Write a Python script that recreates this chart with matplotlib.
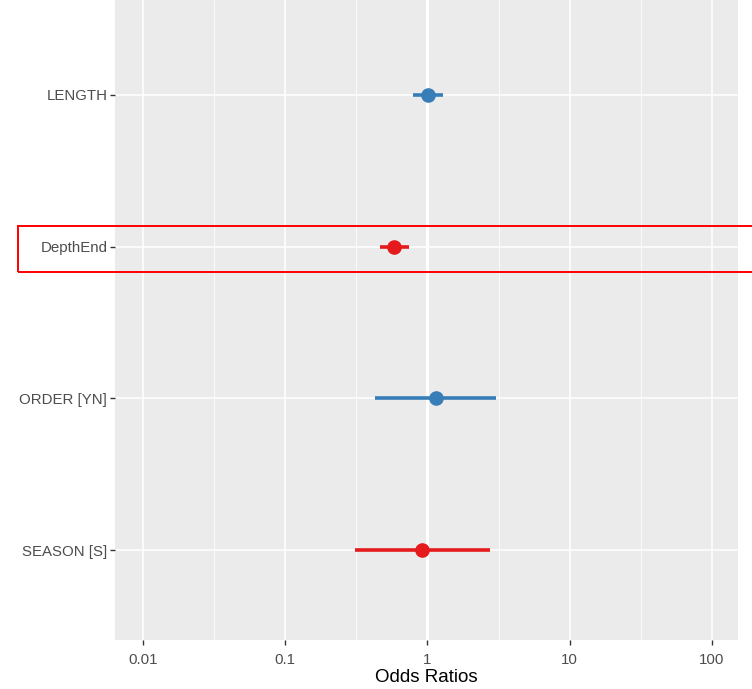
import matplotlib

matplotlib.use("Agg")
import matplotlib.pyplot as plt  # noqa: E402
import numpy as np  # noqa: E402
from matplotlib.patches import Rectangle  # noqa: E402

# odds ratios with 95% CI, top row first
terms = ["LENGTH", "DepthEnd", "ORDER [YN]", "SEASON [S]"]
odds = [1.01, 0.58, 1.14, 0.92]
ci_low = [0.79, 0.46, 0.43, 0.31]
ci_high = [1.29, 0.74, 3.04, 2.75]
colors = ["#377EB8", "#E41A1C", "#377EB8", "#E41A1C"]
xticks = [0.01, 0.1, 1, 10, 100]
xticklabels = ["0.01", "0.1", "1", "10", "100"]

plt.rcParams["font.family"] = ["Liberation Sans", "DejaVu Sans"]

fig = plt.figure(figsize=(7.52, 6.89), dpi=100)
W, H = 752, 689
ax = fig.add_axes([115 / W, (H - 640) / H, (738 - 115) / W, 640 / H])
ax.set_facecolor("#EBEBEB")
for s in ax.spines.values():
    s.set_visible(False)

ax.set_xscale("log")
ax.set_xlim(10 ** -2.197, 10 ** 2.183)
ax.set_ylim(0.407, 4.626)

# grid: major + log midpoints
for t in xticks:
    ax.axvline(t, color="white", lw=1.1, zorder=0)
for k in range(-2, 2):
    ax.axvline(10 ** (k + 0.5), color="white", lw=0.55, zorder=0)
ax.axvline(1, color="white", lw=2.2, zorder=0.5)

ypos = np.arange(len(terms), 0, -1)
for y in ypos:
    ax.axhline(y, color="white", lw=1.1, zorder=0)

for y, o, lo, hi, c in zip(ypos, odds, ci_low, ci_high, colors):
    ax.plot([lo, hi], [y, y], color=c, lw=2.6, solid_capstyle="butt", zorder=2)
    ax.plot(o, y, "o", color=c, ms=9.5, zorder=3)

ax.set_xticks(xticks)
ax.set_xticklabels(xticklabels)
ax.xaxis.set_minor_locator(matplotlib.ticker.NullLocator())
ax.set_yticks(ypos)
ax.set_yticklabels(terms)
ax.tick_params(axis="both", colors="#333333", labelcolor="#4D4D4D",
               labelsize=10.8, length=3.5, width=1)
ax.tick_params(axis="x", pad=6)
ax.tick_params(axis="y", pad=2)
ax.set_xlabel("Odds Ratios", fontsize=13.5, color="black", labelpad=1)

# highlight box around DepthEnd row
fig.patches.append(Rectangle((18 / W, (H - 272) / H), (760 - 18) / W, 46 / H,
                             transform=fig.transFigure, fill=False,
                             edgecolor="#FF0000", lw=1.4, zorder=10))

fig.savefig("out.png", dpi=100)
